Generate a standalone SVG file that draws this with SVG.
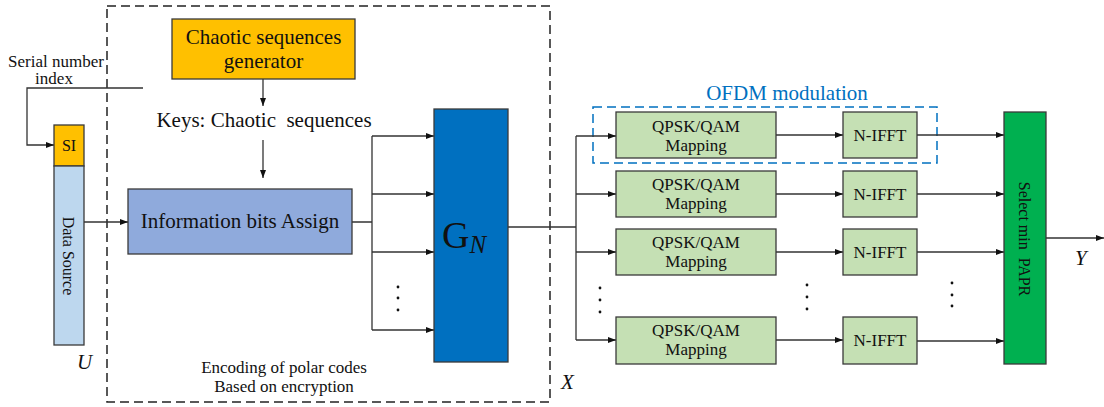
<svg xmlns="http://www.w3.org/2000/svg" width="1104" height="407" viewBox="0 0 1104 407" font-family="'Liberation Serif', 'Times New Roman', Times, 'DejaVu Serif', serif">
  <defs>
    <marker id="arr" markerUnits="userSpaceOnUse" markerWidth="8" markerHeight="6" refX="8" refY="3" orient="auto">
      <path d="M0,0 L8,3 L0,6 z" fill="#111"/>
    </marker>
    <style>
      text { font-family: "Liberation Serif", "Times New Roman", Times, "DejaVu Serif", serif; fill: #111; }
      .box { stroke: #3a3a3a; stroke-width: 1.3; }
      .conn { fill: none; stroke: #333; stroke-width: 1.3; }
      .arr { marker-end: url(#arr); }
      .qpsk { fill: #C5E0B4; }
      .lbl17 { font-size: 17px; text-anchor: middle; }
      .lbl21 { font-size: 21px; text-anchor: middle; }
      .var { font-style: italic; font-size: 21px; }
      .dot { fill: #111; }
    </style>
  </defs>

  <!-- encoder boundary -->
  <rect x="107" y="6" width="443" height="396" fill="none" stroke="#222" stroke-width="1.5" stroke-dasharray="9,5"/>
  <!-- OFDM boundary -->
  <rect x="593" y="107" width="344" height="56" fill="none" stroke="#0070C0" stroke-width="1.5" stroke-dasharray="9,5"/>
  <text x="787" y="100" font-size="21" text-anchor="middle" style="fill:#0070C0">OFDM modulation</text>

  <text class="lbl17" x="56" y="67">Serial number</text>
  <text class="lbl17" x="54" y="84">index</text>

  <g id="connectors">
    <path class="conn arr" d="M143,88 H27 V145 H54"/>
    <path class="conn arr" d="M263,79 V106"/>
    <path class="conn arr" d="M263,140 V178"/>
    <path class="conn arr" d="M84,222 H128"/>
    <path class="conn" d="M352,222 H372 M372,136 V330"/>
    <path class="conn arr" d="M372,136 H434"/>
    <path class="conn arr" d="M372,194 H434"/>
    <path class="conn arr" d="M372,252 H434"/>
    <path class="conn arr" d="M372,330 H434"/>
    <path class="conn" d="M508,227 H576 M576,136 V340"/>
    <path class="conn arr" d="M576,136 H616"/>
    <path class="conn arr" d="M576,194 H616"/>
    <path class="conn arr" d="M576,252 H616"/>
    <path class="conn arr" d="M576,340 H616"/>
    <path class="conn arr" d="M776,135 H843"/>
    <path class="conn arr" d="M776,194 H843"/>
    <path class="conn arr" d="M776,252 H843"/>
    <path class="conn arr" d="M776,340 H843"/>
    <path class="conn arr" d="M917,135 H1004"/>
    <path class="conn arr" d="M917,194 H1004"/>
    <path class="conn arr" d="M917,252 H1004"/>
    <path class="conn arr" d="M917,341 H1004"/>
    <path class="conn arr" d="M1046,238 H1104"/>
  </g>

  <g id="si">
    <rect class="box" x="54" y="125" width="30" height="41" fill="#FFC000"/>
    <text x="69" y="151" font-size="16" text-anchor="middle">SI</text>
  </g>
  <g id="data-source">
    <rect class="box" x="54" y="166" width="30" height="179" fill="#BDD7EE"/>
    <text x="0" y="0" font-size="16" text-anchor="middle" transform="translate(63,256) rotate(90)">Data Source</text>
  </g>
  <text class="var" x="77" y="369">U</text>

  <g id="chaotic-generator">
    <rect class="box" x="172" y="19" width="183" height="60" fill="#FFC000"/>
    <text class="lbl21" x="263.5" y="44">Chaotic sequences</text>
    <text class="lbl21" x="263.5" y="68">generator</text>
  </g>
  <text class="lbl21" x="264" y="127" xml:space="preserve">Keys: Chaotic  sequences</text>

  <g id="info-bits">
    <rect class="box" x="128" y="189" width="224" height="65" fill="#8FAADC"/>
    <text class="lbl21" x="240" y="228">Information bits Assign</text>
  </g>

  <g id="gn">
    <rect class="box" x="434" y="109" width="74" height="253" fill="#0070C0"/>
    <text x="442" y="248" font-size="38">G<tspan font-size="25" font-style="italic" dy="5">N</tspan></text>
  </g>
  <circle class="dot" cx="398" cy="287" r="1.4"/>
  <circle class="dot" cx="398" cy="298" r="1.4"/>
  <circle class="dot" cx="398" cy="310" r="1.4"/>

  <text class="lbl17" x="284" y="373">Encoding of polar codes</text>
  <text class="lbl17" x="284" y="392">Based on encryption</text>
  <text class="var" x="561" y="389">X</text>

  <g id="map1">
    <rect class="box qpsk" x="616" y="112" width="160" height="46"/>
    <text class="lbl17" x="696" y="132">QPSK/QAM</text>
    <text class="lbl17" x="696" y="151">Mapping</text>
  </g>
  <g id="map2">
    <rect class="box qpsk" x="616" y="171" width="160" height="46"/>
    <text class="lbl17" x="696" y="190">QPSK/QAM</text>
    <text class="lbl17" x="696" y="209">Mapping</text>
  </g>
  <g id="map3">
    <rect class="box qpsk" x="616" y="229" width="160" height="46"/>
    <text class="lbl17" x="696" y="248">QPSK/QAM</text>
    <text class="lbl17" x="696" y="267">Mapping</text>
  </g>
  <g id="map4">
    <rect class="box qpsk" x="616" y="317" width="160" height="47"/>
    <text class="lbl17" x="696" y="336">QPSK/QAM</text>
    <text class="lbl17" x="696" y="355">Mapping</text>
  </g>

  <g id="ifft1">
    <rect class="box qpsk" x="843" y="112" width="74" height="46"/>
    <text class="lbl17" x="880" y="141">N-IFFT</text>
  </g>
  <g id="ifft2">
    <rect class="box qpsk" x="843" y="171" width="74" height="46"/>
    <text class="lbl17" x="880" y="200">N-IFFT</text>
  </g>
  <g id="ifft3">
    <rect class="box qpsk" x="843" y="229" width="74" height="46"/>
    <text class="lbl17" x="880" y="258">N-IFFT</text>
  </g>
  <g id="ifft4">
    <rect class="box qpsk" x="843" y="317" width="74" height="47"/>
    <text class="lbl17" x="880" y="346">N-IFFT</text>
  </g>

  <circle class="dot" cx="600" cy="288" r="1.4"/>
  <circle class="dot" cx="600" cy="300" r="1.4"/>
  <circle class="dot" cx="600" cy="312" r="1.4"/>
  <circle class="dot" cx="807" cy="285" r="1.4"/>
  <circle class="dot" cx="807" cy="297" r="1.4"/>
  <circle class="dot" cx="807" cy="309" r="1.4"/>
  <circle class="dot" cx="952" cy="283" r="1.4"/>
  <circle class="dot" cx="952" cy="295" r="1.4"/>
  <circle class="dot" cx="952" cy="306" r="1.4"/>

  <g id="select-papr">
    <rect class="box" x="1004" y="112" width="42" height="252" fill="#00B050"/>
    <text x="0" y="0" font-size="16" text-anchor="middle" transform="translate(1019,239) rotate(90)" xml:space="preserve">Select min  PAPR</text>
  </g>
  <text class="var" x="1075" y="265">Y</text>
</svg>
